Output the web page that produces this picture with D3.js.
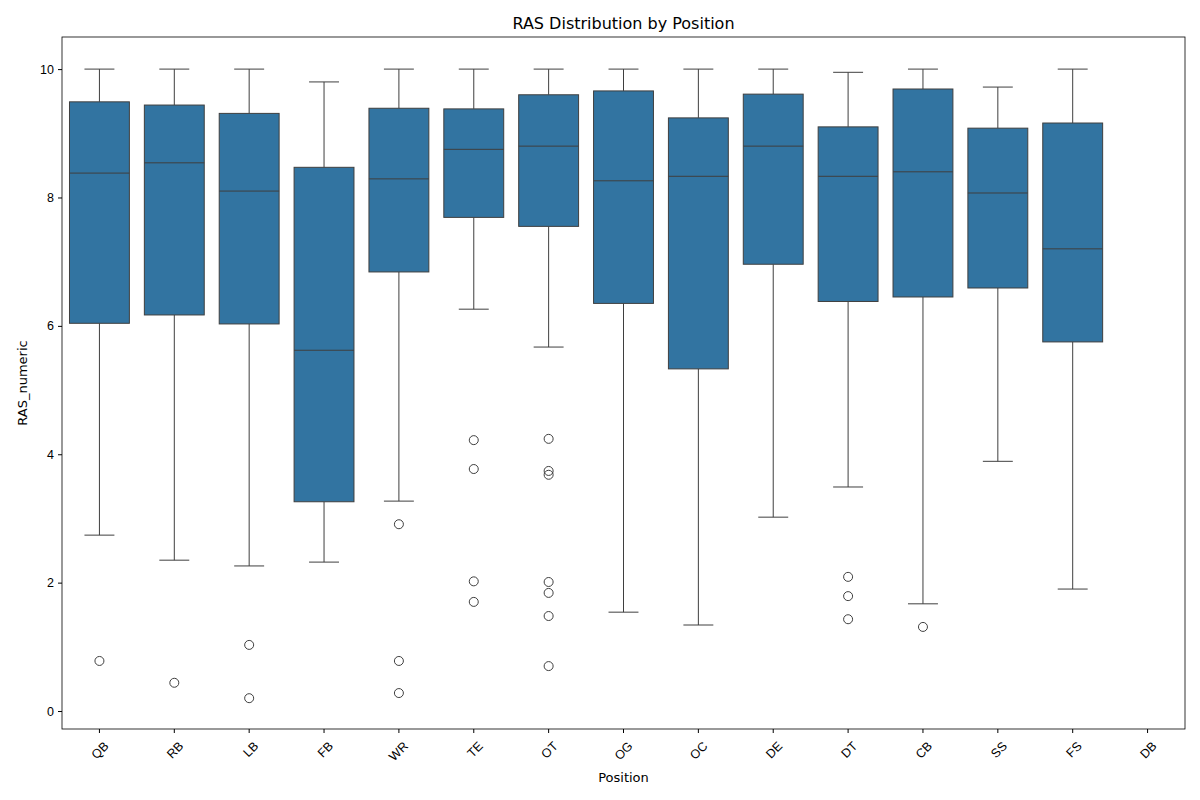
<!DOCTYPE html>
<html><head><meta charset="utf-8">
<script src="https://d3js.org/d3.v7.min.js"></script>
<style>body{margin:0;background:#fff;font-family:"DejaVu Sans",sans-serif;}</style>
</head><body><div id="chart"></div>
<script>
// box stats: [whiskerLow, q1, median, q3, whiskerHigh]
var positions = ["QB","RB","LB","FB","WR","TE","OT","OG","OC","DE","DT","CB","SS","FS","DB"];
var stats = [
  [2.74,6.04,8.38,9.49,10],
  [2.35,6.17,8.54,9.44,10],
  [2.26,6.03,8.10,9.31,10],
  [2.32,3.26,5.62,8.47,9.80],
  [3.27,6.84,8.29,9.39,10],
  [6.26,7.69,8.75,9.38,10],
  [5.67,7.55,8.80,9.60,10],
  [1.54,6.35,8.26,9.66,10],
  [1.34,5.33,8.33,9.24,10],
  [3.02,6.96,8.80,9.61,10],
  [3.49,6.38,8.33,9.10,9.95],
  [1.67,6.45,8.40,9.69,10],
  [3.89,6.59,8.07,9.08,9.72],
  [1.90,5.75,7.20,9.16,10],
  null
];
var outliers = [
  [0.78],[0.44],[1.03,0.20],[],[2.91,0.78,0.28],[4.22,3.77,2.02,1.70],
  [4.24,3.74,3.68,2.01,1.84,1.48,0.70],[],[],[],[2.09,1.79,1.43],[1.31],[],[],[]
];
var yTicks = [0,2,4,6,8,10];

var W=1200,H=800,m={l:62,r:15,t:37,b:71};
var svg=d3.select("#chart").append("svg").attr("width",W).attr("height",H);
var x=d3.scaleBand().domain(positions).range([m.l,W-m.r]);
var y=d3.scaleLinear().domain([-0.28,10.5]).range([H-m.b,m.t]);
var line="#3f3f3f", fill="#3274a1";

var g=svg.append("g");
positions.forEach(function(p,i){
  var s=stats[i]; if(!s) return;
  var cx=x(p)+x.bandwidth()/2, bw=x.bandwidth()*0.8;
  g.append("line").attr("x1",cx).attr("x2",cx).attr("y1",y(s[0])).attr("y2",y(s[1])).attr("stroke",line);
  g.append("line").attr("x1",cx).attr("x2",cx).attr("y1",y(s[3])).attr("y2",y(s[4])).attr("stroke",line);
  [s[0],s[4]].forEach(function(v){
    g.append("line").attr("x1",cx-bw/4).attr("x2",cx+bw/4).attr("y1",y(v)).attr("y2",y(v)).attr("stroke",line);
  });
  g.append("rect").attr("x",cx-bw/2).attr("width",bw).attr("y",y(s[3])).attr("height",y(s[1])-y(s[3]))
    .attr("fill",fill).attr("stroke",line);
  g.append("line").attr("x1",cx-bw/2).attr("x2",cx+bw/2).attr("y1",y(s[2])).attr("y2",y(s[2])).attr("stroke",line);
  outliers[i].forEach(function(v){
    g.append("circle").attr("cx",cx).attr("cy",y(v)).attr("r",4.5).attr("fill","none").attr("stroke",line);
  });
});

svg.append("rect").attr("x",m.l).attr("y",m.t).attr("width",W-m.l-m.r).attr("height",H-m.t-m.b)
  .attr("fill","none").attr("stroke","#000").attr("stroke-width",0.8);

var ya=svg.append("g").attr("transform","translate("+m.l+",0)").call(d3.axisLeft(y).tickValues(yTicks).tickSize(4).tickPadding(4));
var xa=svg.append("g").attr("transform","translate(0,"+(H-m.b)+")").call(d3.axisBottom(x).tickSize(4));
[ya,xa].forEach(function(a){a.select(".domain").remove();a.selectAll("text").attr("font-size",12.5).attr("fill","#000");});
xa.selectAll("text").attr("text-anchor","end").attr("dy",0).attr("dx",0)
  .attr("transform","translate(5,13) rotate(-45)");

svg.append("text").attr("x",(m.l+W-m.r)/2).attr("y",29).attr("text-anchor","middle").attr("font-size",16).text("RAS Distribution by Position");
svg.append("text").attr("x",(m.l+W-m.r)/2).attr("y",782).attr("text-anchor","middle").attr("font-size",13).text("Position");
svg.append("text").attr("transform","translate(27,"+((m.t+H-m.b)/2)+") rotate(-90)").attr("text-anchor","middle").attr("font-size",13).text("RAS_numeric");
</script></body></html>
